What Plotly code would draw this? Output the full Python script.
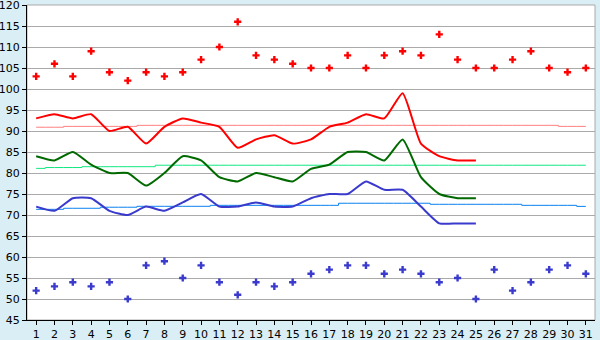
import plotly.graph_objects as go

days = list(range(1, 32))

max_points = [103, 106, 103, 109, 104, 102, 104, 103, 104, 107, 110, 116, 108, 107, 106,
              105, 105, 108, 105, 108, 109, 108, 113, 107, 105, 105, 107, 109, 105, 104, 105]
min_points = [52, 53, 54, 53, 54, 50, 58, 59, 55, 58, 54, 51, 54, 53, 54,
              56, 57, 58, 58, 56, 57, 56, 54, 55, 50, 57, 52, 54, 57, 58, 56]

line_days = list(range(1, 26))
red_line = [93, 94, 93, 94, 90, 91, 87, 91, 93, 92, 91, 86, 88, 89, 87,
            88, 91, 92, 94, 93, 99, 87, 84, 83, 83]
green_line = [84, 83, 85, 82, 80, 80, 77, 80, 84, 83, 79, 78, 80, 79, 78,
              81, 82, 85, 85, 83, 88, 79, 75, 74, 74]
blue_line = [72, 71, 74, 74, 71, 70, 72, 71, 73, 75, 72, 72, 73, 72, 72,
             74, 75, 75, 78, 76, 76, 72, 68, 68, 68]

red_mean = [90.9, 90.9, 91.1, 91.1, 91.1, 91.1] + [91.35] * 23 + [91.1, 91.1]
green_mean = [81.1, 81.3, 81.3, 81.5, 81.5, 81.5, 81.5] + [81.85] * 24
blue_mean = [71.35, 71.35, 71.6, 71.6, 71.85, 71.85, 72.07, 72.07, 72.07, 72.07] + \
            [72.3] * 7 + [72.8] * 5 + [72.55] * 5 + [72.3] * 3 + [72.05]

y_ticks = list(range(45, 121, 5))

fig = go.Figure()

fig.add_trace(go.Scatter(x=days, y=red_mean, mode="lines", line=dict(color="#ff7f7f", width=1, shape="hvh"), hoverinfo="skip"))
fig.add_trace(go.Scatter(x=days, y=green_mean, mode="lines", line=dict(color="#10e880", width=1, shape="hvh"), hoverinfo="skip"))
fig.add_trace(go.Scatter(x=days, y=blue_mean, mode="lines", line=dict(color="#0a80f0", width=1, shape="hvh"), hoverinfo="skip"))

fig.add_trace(go.Scatter(x=line_days, y=red_line, mode="lines", line=dict(color="#ff0000", width=2, shape="spline", smoothing=0.5)))
fig.add_trace(go.Scatter(x=line_days, y=green_line, mode="lines", line=dict(color="#006a00", width=2, shape="spline", smoothing=0.5)))
fig.add_trace(go.Scatter(x=line_days, y=blue_line, mode="lines", line=dict(color="#3a3acc", width=2, shape="spline", smoothing=0.5)))

fig.add_trace(go.Scatter(x=days, y=max_points, mode="markers", marker=dict(symbol="cross", size=6, color="#ff0000", line=dict(width=0))))
fig.add_trace(go.Scatter(x=days, y=min_points, mode="markers", marker=dict(symbol="cross", size=6, color="#3a3acc", line=dict(width=0))))

fig.update_layout(
    width=600, height=340,
    margin=dict(l=27, r=5, t=5, b=20),
    paper_bgcolor="#d9eef5",
    plot_bgcolor="#ffffff",
    showlegend=False,
    font=dict(family="DejaVu Sans", size=11, color="#000000"),
    xaxis=dict(
        range=[0.5, 31.5], tickmode="array", tickvals=days, ticktext=[str(d) for d in days],
        showgrid=False, zeroline=False, showline=True, linecolor="#000000", linewidth=1,
        ticks="outside", ticklen=4, tickcolor="#000000", tickfont=dict(size=11),
        ticklabeloverflow="allow", automargin=False,
    ),
    yaxis=dict(
        range=[45, 120], tickmode="array", tickvals=y_ticks, ticktext=[str(v) for v in y_ticks],
        showgrid=True, gridcolor="#aaaaaa", gridwidth=1, zeroline=False,
        showline=True, linecolor="#000000", linewidth=1,
        ticks="outside", ticklen=4, tickcolor="#000000", tickfont=dict(size=11),
        ticklabeloverflow="allow", automargin=False,
    ),
    shapes=[dict(type="rect", xref="paper", yref="paper", x0=0, x1=1, y0=0, y1=1,
                 line=dict(color="#aaaaaa", width=1), layer="below")],
)

fig.write_html("out.html")
